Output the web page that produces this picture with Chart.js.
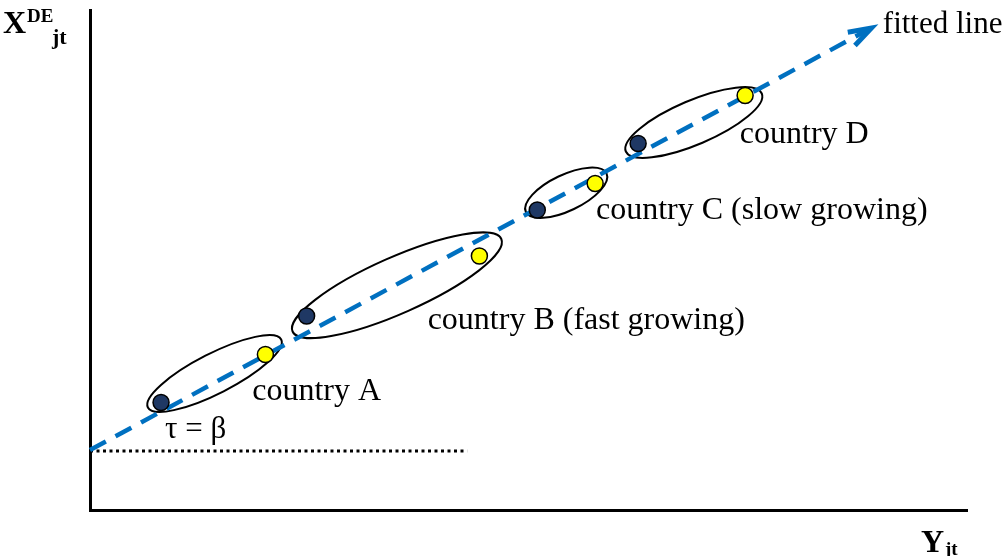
<!DOCTYPE html>
<html><head><meta charset="utf-8">
<script src="https://cdn.jsdelivr.net/npm/chart.js@4/dist/chart.umd.min.js"></script>
<style>html,body{margin:0;padding:0;background:#fff}#wrap{width:1006px;height:556px;position:relative}</style>
</head><body><div id="wrap"><canvas id="c"></canvas></div>
<script>
// ---- data (schematic units 0..100 on both axes) ----
const countries = ['country A', 'country B (fast growing)', 'country C (slow growing)', 'country D'];
const startX = [8.1, 24.7, 51.0, 62.5];     // dark points
const startY = [21.5, 38.8, 60.0, 73.3];
const endX = [20.0, 44.4, 57.6, 74.7];      // yellow points
const endY = [31.1, 50.8, 65.3, 82.9];
const fitX = [0, 89.1];                     // fitted line
const fitY = [12.0, 96.4];
const tauX = [0, 43.0];                     // dotted intercept line
const tauY = [11.8, 11.8];
// ellipse major-axis endpoints (data units)
const ellX1 = [6.6, 23.1, 49.7, 61.1];
const ellY1 = [20.5, 35.7, 59.6, 71.7];
const ellX2 = [21.8, 46.9, 58.9, 76.6];
const ellY2 = [34.1, 54.2, 67.3, 83.3];

// ---- annotation placement (separate from data) ----
const ellMinor = [20, 28, 18, 22];
const labelPos = [[18.5, 22.0], [38.5, 36.3], [57.7, 58.3], [74.1, 73.5]];
const extraLabels = [
  {text: 'τ = β', x: 8.55, y: 14.5},
  {text: 'fitted line', x: 90.4, y: 95.4}
];
const SERIF = '"Liberation Serif", "Times New Roman", serif';

const decor = {
  id: 'decor',
  beforeDatasetsDraw(chart) {
    const {ctx, scales: {x, y}} = chart;
    ctx.save();
    ctx.strokeStyle = '#000';
    ctx.lineWidth = 2;
    for (let i = 0; i < ellX1.length; i++) {
      const x1 = x.getPixelForValue(ellX1[i]), y1 = y.getPixelForValue(ellY1[i]);
      const x2 = x.getPixelForValue(ellX2[i]), y2 = y.getPixelForValue(ellY2[i]);
      const cx = (x1 + x2) / 2, cy = (y1 + y2) / 2;
      const a = Math.hypot(x2 - x1, y2 - y1) / 2;
      const ang = Math.atan2(y2 - y1, x2 - x1);
      ctx.beginPath();
      ctx.ellipse(cx, cy, a, ellMinor[i], ang, 0, Math.PI * 2);
      ctx.stroke();
    }
    ctx.restore();
  },
  afterDatasetsDraw(chart) {
    const {ctx, scales: {x, y}, chartArea} = chart;
    ctx.save();
    // arrow head on fitted line
    const px0 = x.getPixelForValue(fitX[0]), py0 = y.getPixelForValue(fitY[0]);
    const px1 = x.getPixelForValue(fitX[1]), py1 = y.getPixelForValue(fitY[1]);
    const ang = Math.atan2(py1 - py0, px1 - px0);
    ctx.strokeStyle = '#0070C0';
    ctx.lineWidth = 5;
    ctx.lineCap = 'butt';
    ctx.lineJoin = 'miter';
    const L = 24, spread = 0.32;
    ctx.beginPath();
    ctx.moveTo(px1 - L * Math.cos(ang - spread), py1 - L * Math.sin(ang - spread));
    ctx.lineTo(px1, py1);
    ctx.lineTo(px1 - L * Math.cos(ang + spread), py1 - L * Math.sin(ang + spread));
    ctx.stroke();

    // labels
    ctx.fillStyle = '#000';
    ctx.textBaseline = 'alphabetic';
    ctx.textAlign = 'left';
    ctx.font = '32px ' + SERIF;
    countries.forEach((t, i) => {
      ctx.fillText(t, x.getPixelForValue(labelPos[i][0]), y.getPixelForValue(labelPos[i][1]));
    });
    ctx.font = '31px ' + SERIF;
    extraLabels.forEach(l => {
      ctx.fillText(l.text, x.getPixelForValue(l.x), y.getPixelForValue(l.y));
    });

    // axis titles
    const L0 = chartArea.left, T0 = chartArea.top, R0 = chartArea.right, B0 = chartArea.bottom;
    ctx.font = 'bold 32px ' + SERIF;
    ctx.fillText('X', L0 - 87, T0 + 23);
    ctx.font = 'bold 19px ' + SERIF;
    ctx.fillText('DE', L0 - 63, T0 + 12);
    ctx.font = 'bold 22px ' + SERIF;
    ctx.fillText('jt', L0 - 38, T0 + 34);
    ctx.font = 'bold 32px ' + SERIF;
    ctx.fillText('Y', R0 - 46, B0 + 42);
    ctx.font = 'bold 19px ' + SERIF;
    ctx.fillText('jt', R0 - 22, B0 + 45);
    ctx.restore();
  }
};

const toPts = (xs, ys) => xs.map((v, i) => ({x: v, y: ys[i]}));

new Chart(document.getElementById('c'), {
  type: 'scatter',
  data: {
    datasets: [
      {
        label: 'start', data: toPts(startX, startY), order: 1,
        pointRadius: 8, pointHoverRadius: 8,
        backgroundColor: '#1F3864', borderColor: '#000', borderWidth: 1.5, clip: false
      },
      {
        label: 'end', data: toPts(endX, endY), order: 1,
        pointRadius: 8, pointHoverRadius: 8,
        backgroundColor: '#FFFF00', borderColor: '#000', borderWidth: 1.5, clip: false
      },
      {
        type: 'line', label: 'fitted line', data: toPts(fitX, fitY), order: 2,
        showLine: true, pointRadius: 0, borderColor: '#0070C0', borderWidth: 4.5,
        borderDash: [18, 11], fill: false, clip: false
      },
      {
        type: 'line', label: 'intercept', data: toPts(tauX, tauY), order: 3,
        showLine: true, pointRadius: 0, borderColor: '#000', borderWidth: 3,
        borderDash: [3, 3.5], fill: false, clip: false
      }
    ]
  },
  options: {
    responsive: true, maintainAspectRatio: false, animation: false, devicePixelRatio: 1,
    layout: {padding: {left: 90, right: 39, top: 10, bottom: 46}},
    plugins: {legend: {display: false}, tooltip: {enabled: false}},
    events: [],
    scales: {
      x: {
        type: 'linear', min: 0, max: 100,
        ticks: {display: false}, grid: {display: false, drawTicks: false, tickLength: 0},
        border: {display: true, color: '#000', width: 3}
      },
      y: {
        type: 'linear', min: 0, max: 100,
        ticks: {display: false}, grid: {display: false, drawTicks: false, tickLength: 0},
        border: {display: true, color: '#000', width: 3}
      }
    }
  },
  plugins: [decor]
});
</script>
</body></html>
